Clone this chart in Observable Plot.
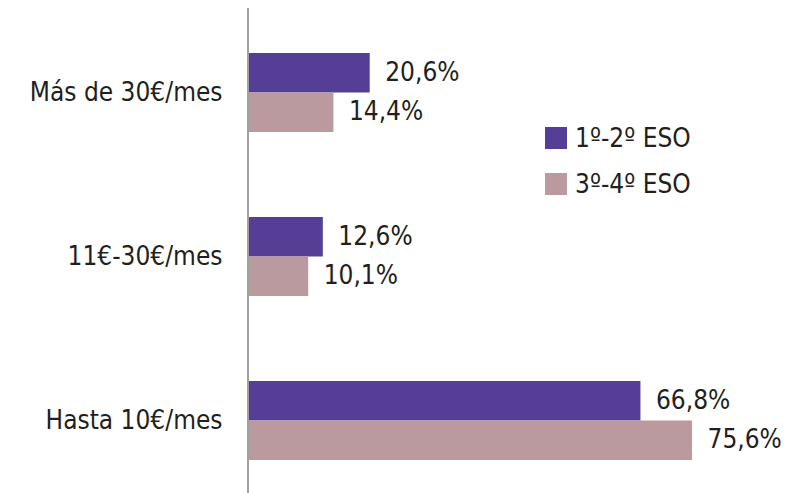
<!DOCTYPE html>
<html>
<head>
<meta charset="utf-8">
<script src="https://cdn.jsdelivr.net/npm/d3@7"></script>
<script src="https://cdn.jsdelivr.net/npm/@observablehq/plot@0.6"></script>
<style>
  html, body { margin: 0; padding: 0; background: #fff; }
  #wrap { position: relative; width: 807px; height: 493px; font-family: "DejaVu Sans Condensed", sans-serif; color: #231f20; }
  #legend { position: absolute; left: 545px; top: 126px; }
  .row { display: flex; align-items: center; height: 23px; margin-bottom: 23px; font-size: 26px; }
  .sw { width: 22px; height: 22px; margin-right: 8px; flex: none; }
</style>
</head>
<body>
<div id="wrap"></div>
<script>
const categories = ["Más de 30€/mes", "11€-30€/mes", "Hasta 10€/mes"];
const series = ["1º-2º ESO", "3º-4º ESO"];
const colors = ["#553f96", "#bb9a9f"];
const values1 = [20.6, 12.6, 66.8];
const values2 = [14.4, 10.1, 75.6];
const fmt = v => d3.format(".1f")(v).replace(".", ",") + "%";

const d1 = categories.map((c, i) => ({cat: c, value: values1[i], series: series[0]}));
const d2 = categories.map((c, i) => ({cat: c, value: values2[i], series: series[1]}));

const chart = Plot.plot({
  width: 807,
  height: 493,
  marginLeft: 247,
  marginRight: 0,
  marginTop: 8,
  marginBottom: 0,
  style: {fontFamily: '"DejaVu Sans Condensed", sans-serif', fontSize: "26px", color: "#231f20", background: "transparent"},
  x: {domain: [0, 100], range: [249, 835], axis: null},
  y: {domain: categories, range: [10, 503], paddingInner: 0.52, paddingOuter: 0.26, label: null, tickSize: 0, tickPadding: 25},
  color: {domain: series, range: colors},
  marks: [
    Plot.barX(d1, {x: "value", y: "cat", fill: "series", insetBottom: 39.5}),
    Plot.barX(d2, {x: "value", y: "cat", fill: "series", insetTop: 39.5}),
    Plot.ruleX([0], {stroke: "#a0a0a0", strokeWidth: 2, dx: -1.5}),
    Plot.text(d1, {x: "value", y: "cat", text: d => fmt(d.value), textAnchor: "start", dx: 15, dy: -20, fill: "#231f20", fontSize: 26}),
    Plot.text(d2, {x: "value", y: "cat", text: d => fmt(d.value), textAnchor: "start", dx: 15, dy: 19, fill: "#231f20", fontSize: 26})
  ]
});

const wrap = document.getElementById("wrap");
wrap.appendChild(chart);
const legend = document.createElement("div");
legend.id = "legend";
series.forEach((s, i) => {
  const row = document.createElement("div");
  row.className = "row";
  const sw = document.createElement("span");
  sw.className = "sw";
  sw.style.background = colors[i];
  const t = document.createElement("span");
  t.textContent = s;
  row.appendChild(sw);
  row.appendChild(t);
  legend.appendChild(row);
});
wrap.appendChild(legend);
</script>
</body>
</html>
